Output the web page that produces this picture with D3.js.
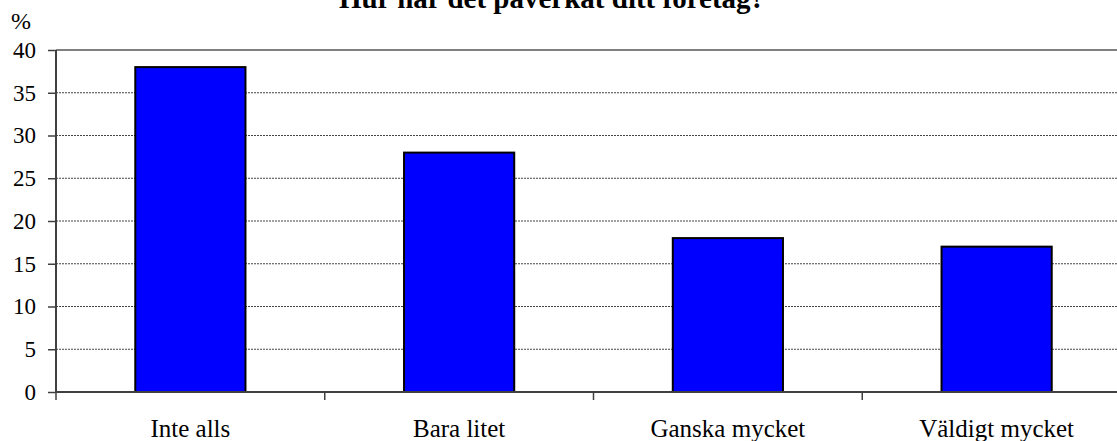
<!DOCTYPE html>
<html>
<head>
<meta charset="utf-8">
<script src="https://cdn.jsdelivr.net/npm/d3@7"></script>
<style>
  body { margin: 0; background: #fff; }
  svg { display: block; }
  svg text { font-family: "Liberation Serif", "Times New Roman", serif; fill: #000; }
</style>
</head>
<body>
<div id="chart"></div>
<script>
// données
const categories = ["Inte alls", "Bara litet", "Ganska mycket", "Väldigt mycket"];
const values = [38, 28, 18, 17];
const yTicks = [0, 5, 10, 15, 20, 25, 30, 35, 40];
const title = "Hur har det påverkat ditt företag?";

const width = 1117,
  height = 441;
const mLeft = 56, mRight = 1131, mTop = 50, mBottom = 392;

const svg = d3.select("#chart").append("svg")
  .attr("width", width)
  .attr("height", height);

const x = d3.scaleBand()
  .domain(categories)
  .range([mLeft, mRight])
  .paddingInner(0.59)
  .paddingOuter(0.295);

const y = d3.scaleLinear().domain([0, 40]).range([mBottom, mTop]);

// lignes de grille pointillées
svg.selectAll(".grid")
  .data(yTicks.filter(d => d > 0 && d < 40))
  .enter()
  .append("line")
  .attr("x1", mLeft).attr("x2", mRight)
  .attr("y1", d => y(d)).attr("y2", d => y(d))
  .attr("stroke", "#444")
  .attr("stroke-width", 1)
  .attr("stroke-dasharray", "2,1");

// bord haut gris
svg.append("line")
  .attr("x1", mLeft).attr("x2", mRight)
  .attr("y1", y(40)).attr("y2", y(40))
  .attr("stroke", "#808080")
  .attr("stroke-width", 2);

// barres
svg.selectAll(".bar")
  .data(values)
  .enter()
  .append("rect")
  .attr("x", (d, i) => x(categories[i]))
  .attr("y", d => y(d))
  .attr("width", x.bandwidth())
  .attr("height", d => y(0) - y(d))
  .attr("fill", "#0000ff")
  .attr("stroke", "#000")
  .attr("stroke-width", 2);

// axe Y
const yAxis = d3.axisLeft(y).tickValues(yTicks).tickSize(8).tickPadding(12);
const gy = svg.append("g")
  .attr("transform", "translate(" + mLeft + ",0)")
  .call(yAxis)
  .attr("font-family", null)
  .attr("font-size", null);
gy.select(".domain").attr("stroke", "#404040").attr("stroke-width", 2).attr("d", "M0," + mTop + "V" + mBottom);
gy.selectAll(".tick line").attr("stroke", "#404040").attr("stroke-width", 1.5);
gy.selectAll(".tick text")
  .attr("fill", "#000")
  .style("font-size", "23px");

// axe X
svg.append("line")
  .attr("x1", mLeft).attr("x2", mRight)
  .attr("y1", mBottom).attr("y2", mBottom)
  .attr("stroke", "#404040")
  .attr("stroke-width", 2);

const step = x.step();
svg.selectAll(".xtick")
  .data(d3.range(categories.length + 1))
  .enter()
  .append("line")
  .attr("x1", i => mLeft + i * step)
  .attr("x2", i => mLeft + i * step)
  .attr("y1", mBottom)
  .attr("y2", mBottom + 8)
  .attr("stroke", "#404040")
  .attr("stroke-width", 1.5);

svg.selectAll(".xlabel")
  .data(categories)
  .enter()
  .append("text")
  .attr("x", d => x(d) + x.bandwidth() / 2)
  .attr("y", 437)
  .attr("text-anchor", "middle")
  .style("font-size", "25px")
  .text(d => d);

// unité
svg.append("text")
  .attr("x", 11)
  .attr("y", 29)
  .style("font-size", "24px")
  .text("%");

// titre (coupé en haut comme l'original)
svg.append("text")
  .attr("x", 552)
  .attr("y", 8)
  .attr("text-anchor", "middle")
  .style("font-size", "29px")
  .style("font-weight", "bold")
  .text(title);
</script>
</body>
</html>
